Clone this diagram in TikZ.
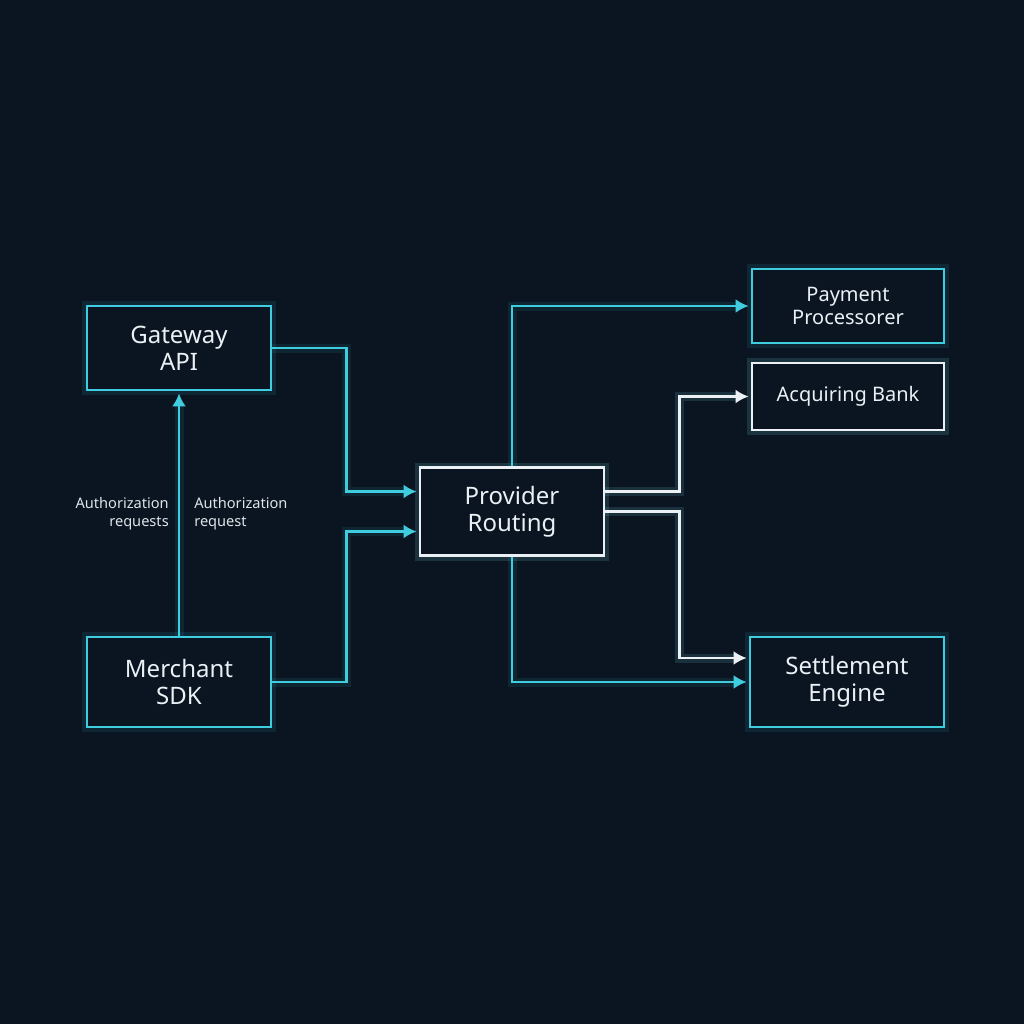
\documentclass[tikz,border=0pt]{standalone}
\usepackage{fontspec}
\setmainfont{Noto Sans}
\usetikzlibrary{arrows.meta,positioning}

\definecolor{fondnuit}{RGB}{10,21,33}
\definecolor{cyanvif}{RGB}{62,204,222}
\definecolor{blanc}{RGB}{234,240,244}

\begin{document}
\begin{tikzpicture}[
    x=0.5pt, y=-0.5pt,
    font=\fontsize{12pt}{13.5pt}\selectfont,
    sysbox/.style={draw=cyanvif, fill=fondnuit, text=blanc, align=center, line width=1.4pt, inner sep=2pt, minimum width=92pt, minimum height=44pt, preaction={draw=cyanvif, line width=5pt, draw opacity=0.10}},
    whitebox/.style={sysbox, draw=blanc, preaction={draw=blanc, line width=5pt, draw opacity=0.06}},
    flow/.style={draw=cyanvif, line width=1.25pt, -{Latex[length=6.5pt,width=7pt]}, shorten >=1pt, preaction={draw=cyanvif, line width=4.5pt, draw opacity=0.09}},
    wflow/.style={flow, draw=blanc, preaction={draw=blanc, line width=4.5pt, draw opacity=0.06}},
    lbl/.style={font=\fontsize{7.3pt}{9pt}\selectfont, text=blanc!90!gray, inner sep=0pt}
]

    % Fond
    \fill[fondnuit] (0,0) rectangle (1024,1024);
    \useasboundingbox (0,0) rectangle (1024,1024);

    % Colonne gauche
    \node[sysbox, minimum height=42pt] (gateway) at (179,348) {Gateway\\API};
    \node[sysbox, minimum height=45pt] (merchant) at (179,682) {Merchant\\SDK};

    % Routage central
    \node[whitebox] (routing) at (512,511.5) {Provider\\Routing};

    % Colonne droite
    \node[sysbox, minimum width=96pt, minimum height=37pt, font=\fontsize{10pt}{11.5pt}\selectfont] (payment) at (848,306) {Payment\\Processorer};
    \node[whitebox, minimum width=96pt, minimum height=33.5pt, font=\fontsize{10pt}{11.5pt}\selectfont] (acquiring) at (848,396.5) {Acquiring Bank};
    \node[sysbox, minimum width=97pt, minimum height=45pt] (settlement) at (847,682) {Settlement\\Engine};

    % Connecteurs
    \draw[flow] (merchant.north) -- node[lbl, left=4.5pt, align=right] {Authorization\\requests} node[lbl, right=7pt, align=left] {Authorization\\request} (gateway.south);
    \draw[flow] (gateway.east) -- ++(37pt,0) |- ([yshift=10pt]routing.west);
    \draw[flow] (merchant.east) -- ++(37pt,0) |- ([yshift=-10pt]routing.west);
    \draw[flow] (routing.north) |- (payment.west);
    \draw[wflow] ([yshift=10pt]routing.east) -- ++(37pt,0) |- (acquiring.west);
    \draw[wflow] (routing.east) -- ++(37pt,0) |- ([yshift=12pt]settlement.west);
    \draw[flow] (routing.south) |- (settlement.west);

\end{tikzpicture}
\end{document}
